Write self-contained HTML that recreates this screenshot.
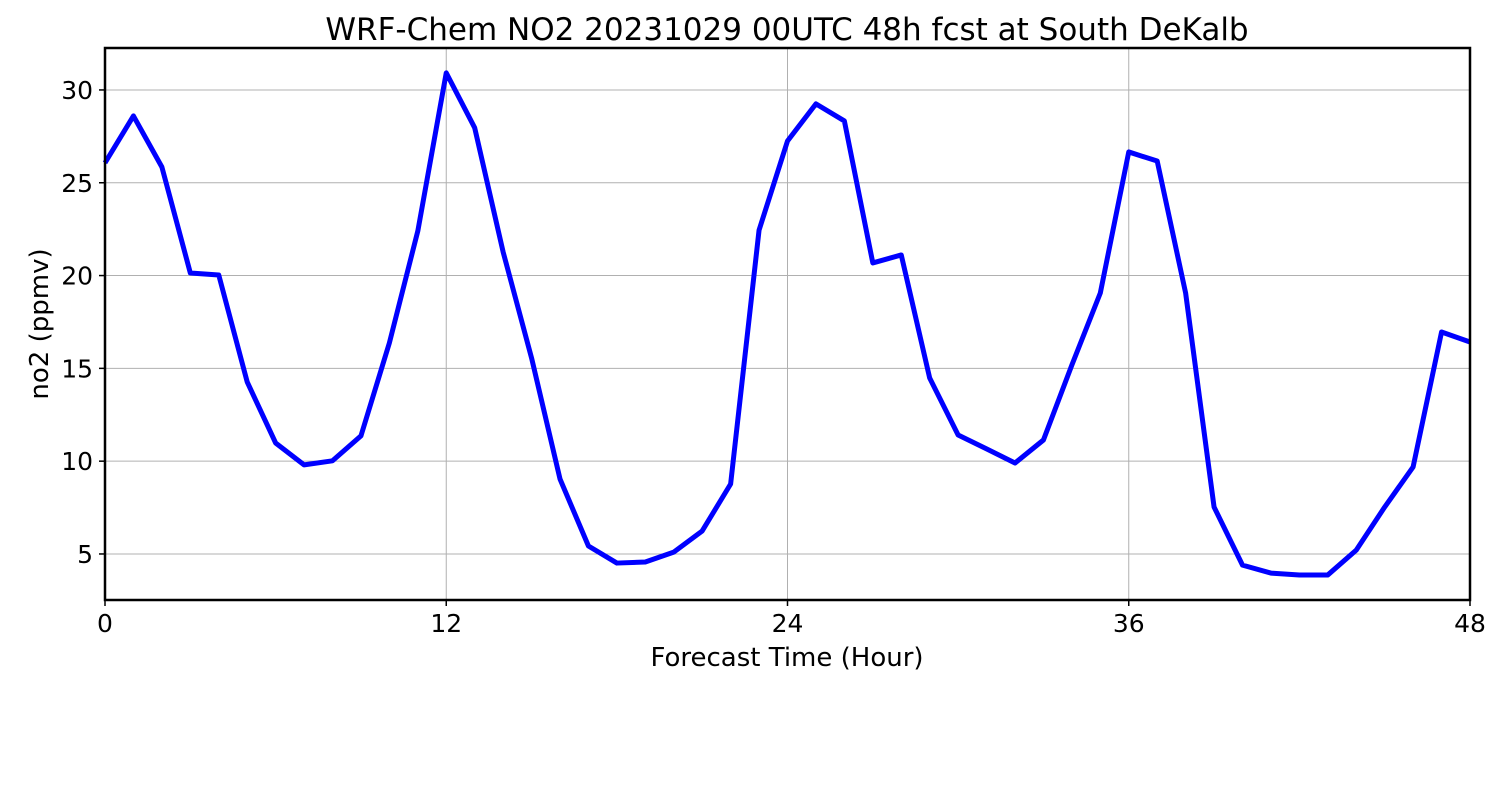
<!DOCTYPE html>
<html><head><meta charset="utf-8"><style>
body{margin:0;background:#fff;}
svg{display:block;font-family:"DejaVu Sans","Liberation Sans",sans-serif;}
</style></head><body>
<svg id="chart" width="1500" height="800">
<rect width="1500" height="800" fill="#fff"/>
<text x="787" y="40" font-size="31" text-anchor="middle">WRF-Chem NO2  20231029 00UTC 48h fcst at South DeKalb</text>
<g id="grid"></g>
<g id="ticks"></g>
<polyline id="line" fill="none" stroke="#0000ff" stroke-width="5" stroke-linejoin="round"/>
<rect x="105" y="48" width="1365" height="552" fill="none" stroke="#000" stroke-width="2.5"/>
<text x="787" y="666" font-size="26" text-anchor="middle">Forecast Time (Hour)</text>
<text transform="translate(48,324) rotate(-90)" font-size="26" text-anchor="middle">no2  (ppmv)</text>
</svg>
<script>
const hours = [0,1,2,3,4,5,6,7,8,9,10,11,12,13,14,15,16,17,18,19,20,21,22,23,24,25,26,27,28,29,30,31,32,33,34,35,36,37,38,39,40,41,42,43,44,45,46,47,48];
const no2 = [26.07,28.6,25.85,20.14,20.03,14.27,10.98,9.8,10.02,11.36,16.37,22.4,30.92,27.96,21.27,15.56,9.04,5.43,4.51,4.57,5.1,6.24,8.77,22.45,27.25,29.25,28.33,20.68,21.11,14.48,11.41,10.66,9.9,11.14,15.18,19.06,26.66,26.17,19.06,7.53,4.4,3.97,3.87,3.87,5.21,7.53,9.69,16.96,16.42];
const xTicks = [0,12,24,36,48];
const yTicks = [5,10,15,20,25,30];
const X0=105,X1=1470,XMIN=0,XMAX=48;
const YB=600,YT=48,YMIN=2.52,YMAX=32.26;
const xs=v=>X0+(v-XMIN)/(XMAX-XMIN)*(X1-X0);
const ys=v=>YB-(v-YMIN)/(YMAX-YMIN)*(YB-YT);
const NS="http://www.w3.org/2000/svg";
const grid=document.getElementById('grid'), ticks=document.getElementById('ticks');
function mk(tag,attrs,parent){const e=document.createElementNS(NS,tag);for(const k in attrs)e.setAttribute(k,attrs[k]);parent.appendChild(e);return e;}
xTicks.forEach(t=>{
  const x=xs(t);
  const g=mk('line',{x1:x,x2:x,y1:YT,y2:YB,stroke:'#b0b0b0','stroke-width':1},grid);
  
  
  const tk=mk('line',{x1:x,x2:x,y1:YB,y2:YB+6,stroke:'#000','stroke-width':1.5},ticks);
  
  
  const tx=mk('text',{x:x,y:632,'font-size':25,'text-anchor':'middle'},ticks);
  tx.textContent=t;
  
  
});
yTicks.forEach(t=>{
  const y=ys(t);
  const g=mk('line',{x1:X0,x2:X1,y1:y,y2:y,stroke:'#b0b0b0','stroke-width':1},grid);
  
  
  const tk=mk('line',{x1:X0-6,x2:X0,y1:y,y2:y,stroke:'#000','stroke-width':1.5},ticks);
  
  
  const tx=mk('text',{x:93,y:y+9,'font-size':25,'text-anchor':'end'},ticks);
  tx.textContent=t;
  
  
});
document.getElementById('line').setAttribute('points',hours.map((h,i)=>xs(h)+','+ys(no2[i])).join(' '));
</script>
</body></html>
